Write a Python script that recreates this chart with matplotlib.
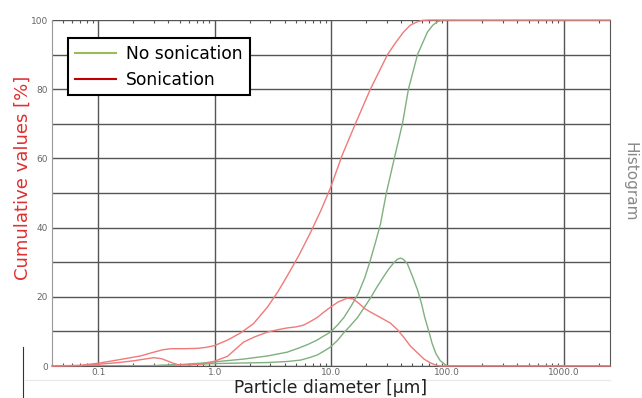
import matplotlib
matplotlib.use("Agg")
import matplotlib.pyplot as plt
import numpy as np
from matplotlib.lines import Line2D

# Sonication cumulative (particle diameter in µm, %)
son_cum_d = [0.04, 0.07, 0.1, 0.15, 0.23, 0.30, 0.36, 0.42, 0.55, 0.71, 0.85, 1.0, 1.29, 1.66, 2.15, 2.84,
             3.5, 4.2, 5.3, 6.65, 8.2, 9.9, 12.5, 16.2, 21.8, 30.6, 36.0, 42.0, 48.0, 55.4, 61.0, 70.0, 2500]
son_cum_v = [0.0, 0.2, 0.8, 1.8, 2.9, 4.0, 4.7, 5.0, 5.0, 5.1, 5.4, 5.9, 7.5, 9.5, 12.2, 17.0,
             21.5, 26.0, 32.0, 38.5, 45.0, 51.5, 61.0, 70.0, 80.0, 90.0, 93.5, 96.5, 98.5, 99.5, 99.9, 100.0, 100.0]

# Sonication histogram
son_hist_d = [0.04, 0.07, 0.1, 0.15, 0.2, 0.25, 0.30, 0.35, 0.39, 0.44, 0.48, 0.6, 0.8, 1.0, 1.29, 1.77,
              2.2, 2.84, 3.5, 4.2, 5.0, 5.8, 6.6, 7.6, 8.7, 9.9, 11.5, 13.8, 15.5, 17.5, 19.5, 21.8, 26.0,
              32.4, 37.0, 42.0, 48.0, 55.4, 63.0, 71.6, 80.0, 88.0, 2500]
son_hist_v = [0.0, 0.1, 0.5, 1.0, 1.5, 2.0, 2.4, 2.1, 1.5, 0.8, 0.4, 0.3, 0.6, 1.4, 2.8, 6.9,
              8.4, 9.8, 10.5, 11.0, 11.3, 11.8, 12.8, 14.0, 15.6, 17.0, 18.5, 19.6, 19.4, 18.0, 16.6, 15.6, 14.2,
              12.4, 10.6, 8.4, 5.8, 3.8, 2.0, 0.9, 0.2, 0.0, 0.0]

# No sonication cumulative
nos_cum_d = [0.04, 0.3, 0.5, 0.75, 1.0, 1.77, 2.84, 4.2, 5.3, 6.4, 7.6, 8.6, 9.9, 11.5, 12.9, 15.0, 17.2,
             19.5, 21.8, 24.0, 26.6, 29.9, 35.0, 41.1, 46.3, 55.4, 67.4, 75.0, 82.2, 90.8, 2500]
nos_cum_v = [0.0, 0.1, 0.4, 0.8, 1.2, 2.0, 2.9, 4.0, 5.2, 6.3, 7.5, 8.6, 9.8, 12.0, 14.0, 17.5, 21.0,
             25.5, 30.6, 35.5, 41.0, 50.0, 60.0, 70.0, 80.0, 90.0, 96.5, 98.5, 99.5, 100.0, 100.0]

# No sonication histogram
nos_hist_d = [0.04, 0.3, 0.5, 1.0, 2.84, 4.2, 5.46, 6.5, 7.64, 8.7, 9.9, 11.3, 12.8, 14.8, 16.9, 19.2,
              21.8, 24.8, 28.3, 31.3, 34.4, 37.0, 39.5, 42.0, 45.4, 50.0, 55.4, 60.0, 64.0, 70.0, 74.0,
              80.0, 87.0, 95.0, 100.0, 2500]
nos_hist_v = [0.0, 0.1, 0.3, 0.7, 1.0, 1.3, 1.7, 2.4, 3.2, 4.3, 5.5, 7.3, 9.5, 11.8, 14.0, 16.8,
              19.6, 22.8, 25.8, 28.0, 29.7, 30.8, 31.2, 30.8, 29.5, 26.0, 22.0, 18.0, 14.0, 9.5, 6.5,
              3.5, 1.5, 0.5, 0.0, 0.0]

x_ticks = [0.1, 1.0, 10.0, 100.0, 1000.0]
x_tick_labels = ["0.1", "1.0", "10.0", "100.0", "1000.0"]
y_ticks = [0, 20, 40, 60, 80, 100]

green = "#7fb07f"
red = "#f07a7a"

fig = plt.figure(figsize=(6.42, 3.98), dpi=100)
ax = fig.add_axes([52/642, 1-366/398, (610-52)/642, (366-20)/398])

ax.set_xscale("log")
ax.set_xlim(0.04, 2500)
ax.set_ylim(0, 100)

ax.plot(nos_cum_d, nos_cum_v, color=green, lw=1.0, zorder=3)
ax.plot(nos_hist_d, nos_hist_v, color=green, lw=1.0, zorder=3)
ax.plot(son_cum_d, son_cum_v, color=red, lw=1.0, zorder=4, clip_on=False)
ax.plot(son_hist_d, son_hist_v, color=red, lw=1.0, zorder=4, clip_on=False)

ax.set_xticks(x_ticks)
ax.set_xticklabels(x_tick_labels)
ax.set_yticks(y_ticks)
ax.set_yticks(np.arange(10, 100, 20), minor=True)
ax.xaxis.set_minor_locator(matplotlib.ticker.LogLocator(base=10, subs=np.arange(2, 10)))
ax.xaxis.set_minor_formatter(matplotlib.ticker.NullFormatter())
ax.grid(True, which="major", color="#555555", lw=1.0)
ax.grid(True, which="minor", axis="y", color="#555555", lw=1.0)

ax.tick_params(axis="both", which="major", labelsize=6.5, labelcolor="#666666", length=0, pad=3)
ax.tick_params(axis="x", which="major", pad=1.5)
ax.tick_params(axis="y", which="minor", length=0)
ax.tick_params(axis="x", which="minor", top=True, bottom=True, direction="in", length=2.5, color="#555555", width=0.8)

for s in ["left", "right", "bottom"]:
    ax.spines[s].set_color("#555555")
ax.spines["left"].set_color("#999999")
ax.spines["top"].set_visible(False)

ax.set_ylabel("Cumulative values [%]", color="#e03030", fontsize=13)
ax.yaxis.set_label_coords(-0.036, 0.543)
ax.set_xlabel("Particle diameter [µm]", color="#222222", fontsize=12.3)
ax.xaxis.set_label_coords(0.5, -0.037)
fig.text(630/642, 1-182/398, "Histogram", rotation=270, color="#888888",
         fontsize=11, ha="center", va="center")

handles = [Line2D([], [], color="#9bbb59", lw=1.5), Line2D([], [], color="#c00000", lw=1.5)]
leg = ax.legend(handles, ["No sonication", "Sonication"], loc="upper left",
                bbox_to_anchor=(16/558, 1-18/346), borderaxespad=0, fontsize=12.3, frameon=True,
                fancybox=False, edgecolor="black", framealpha=1,
                handlelength=2.4, borderpad=0.4, labelspacing=0.45, handletextpad=0.6)
leg.get_frame().set_linewidth(1.5)
leg.set_zorder(10)

# faint baseline and small left marker seen in the reference
fig.add_artist(Line2D([25/642, 610/642], [1-380/398, 1-380/398], color="#e8e8e8", lw=0.8, zorder=0))
fig.add_artist(Line2D([23/642, 23/642], [1-347/398, 0], color="#333333", lw=0.8))

fig.savefig("out.png", dpi=100, facecolor="white")
